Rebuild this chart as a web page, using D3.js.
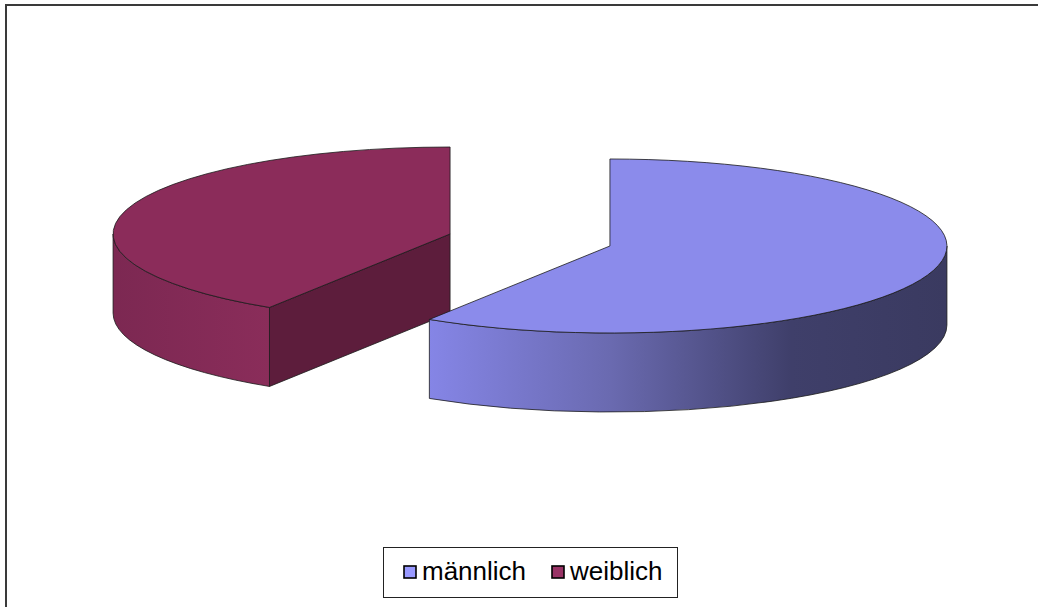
<!DOCTYPE html>
<html>
<head>
<meta charset="utf-8">
<script src="https://cdn.jsdelivr.net/npm/d3@7"></script>
<style>
  body { margin: 0; background: #fff; }
  svg { display: block; }
</style>
</head>
<body>
<div id="chart"></div>
<script>
// data
const categories = ["männlich", "weiblich"];
const values = [59, 41];
const topColors = ["#8b8beb", "#8b2c5a"];
const legendColors = ["#9999ff", "#993366"];
const sideStops = [
  [["0%", "#8585e6"], ["35%", "#6a6ab0"], ["70%", "#3f3f6a"], ["100%", "#3a3a60"]],
  [["0%", "#7c2852"], ["100%", "#8a2d5a"]]
];
const cutColors = ["#3d3d66", "#5d1d3c"];

const width = 1038, height = 607;
const cx = 530, cy = 240, rx = 337, ry = 87, depth = 79;
const explode = 0.247;

const svg = d3.select("#chart").append("svg")
  .attr("width", width)
  .attr("height", height);

const defs = svg.append("defs");

// frame (only top and left edges are visible)
svg.append("rect")
  .attr("x", 6).attr("y", 5)
  .attr("width", width + 20).attr("height", height + 20)
  .attr("fill", "none")
  .attr("stroke", "#3a3a3a")
  .attr("stroke-width", 2);

const pie = d3.pie().sort(null).startAngle(0).endAngle(2 * Math.PI);
const arcs = pie(values);

function pt(c, a, dy) {
  return [c[0] + rx * Math.sin(a), c[1] - ry * Math.cos(a) + (dy || 0)];
}

// draw slices back to front: weiblich first, then männlich
const order = [1, 0];
order.forEach(i => {
  const d = arcs[i];
  const mid = (d.startAngle + d.endAngle) / 2;
  const c = [cx + explode * rx * Math.sin(mid), cy - explode * ry * Math.cos(mid)];
  const g = svg.append("g").attr("class", "slice-" + i);
  const a0 = d.startAngle, a1 = d.endAngle;
  const large = (a1 - a0) > Math.PI ? 1 : 0;

  // radial cut faces that face the viewer
  const faces = [[a0, a0 - Math.PI / 2], [a1, a1 + Math.PI / 2]];
  faces.forEach(([a, n]) => {
    if (Math.cos(n) < -0.01) {
      const p = pt(c, a);
      g.append("path")
        .attr("d", `M${c[0]},${c[1]} L${p[0]},${p[1]} L${p[0]},${p[1] + depth} L${c[0]},${c[1] + depth} Z`)
        .attr("fill", cutColors[i])
        .attr("stroke", "#1a1a1a")
        .attr("stroke-width", 0.8)
        .attr("stroke-linejoin", "round");
    }
  });

  // outer side, only the front half
  const s = Math.max(a0, Math.PI / 2), e = Math.min(a1, 3 * Math.PI / 2);
  if (e > s) {
    const gid = "side" + i;
    const ps = pt(c, s), pe = pt(c, e);
    const xs = [ps[0], pe[0], c[0] + rx * Math.sin(Math.PI / 2), c[0] - rx];
    const x0 = Math.min(ps[0], pe[0]), x1 = Math.max(ps[0], pe[0]);
    const grad = defs.append("linearGradient")
      .attr("id", gid)
      .attr("gradientUnits", "userSpaceOnUse")
      .attr("x1", i === 0 ? x0 : (s <= Math.PI * 1.5 && e >= Math.PI * 1.5 ? c[0] - rx : x0))
      .attr("x2", x1).attr("y1", 0).attr("y2", 0);
    sideStops[i].forEach(st => grad.append("stop").attr("offset", st[0]).attr("stop-color", st[1]));
    const lg = (e - s) > Math.PI ? 1 : 0;
    g.append("path")
      .attr("d", `M${ps[0]},${ps[1]} A${rx},${ry} 0 ${lg} 1 ${pe[0]},${pe[1]}` +
        ` L${pe[0]},${pe[1] + depth} A${rx},${ry} 0 ${lg} 0 ${ps[0]},${ps[1] + depth} Z`)
      .attr("fill", `url(#${gid})`)
      .attr("stroke", "#1a1a1a")
      .attr("stroke-width", 0.8)
      .attr("stroke-linejoin", "round");
  }

  // top face
  const p0 = pt(c, a0), p1 = pt(c, a1);
  g.append("path")
    .attr("d", `M${c[0]},${c[1]} L${p0[0]},${p0[1]} A${rx},${ry} 0 ${large} 1 ${p1[0]},${p1[1]} Z`)
    .attr("fill", topColors[i])
    .attr("stroke", "#1a1a1a")
    .attr("stroke-width", 0.8)
    .attr("stroke-linejoin", "round");
});

// legend
const legend = svg.append("g").attr("class", "legend");
legend.append("rect")
  .attr("x", 383.5).attr("y", 547.5)
  .attr("width", 294).attr("height", 50)
  .attr("fill", "#fff")
  .attr("stroke", "#222")
  .attr("stroke-width", 1);

const legendX = [404, 552];
categories.forEach((name, i) => {
  legend.append("rect")
    .attr("x", legendX[i]).attr("y", 566)
    .attr("width", 12).attr("height", 12)
    .attr("fill", legendColors[i])
    .attr("stroke", "#000")
    .attr("stroke-width", 1.6);
  legend.append("text")
    .attr("x", legendX[i] + 18).attr("y", 580)
    .attr("font-family", "'Liberation Sans', Arial, sans-serif")
    .attr("font-size", 26)
    .attr("fill", "#000")
    .text(name);
});
</script>
</body>
</html>
